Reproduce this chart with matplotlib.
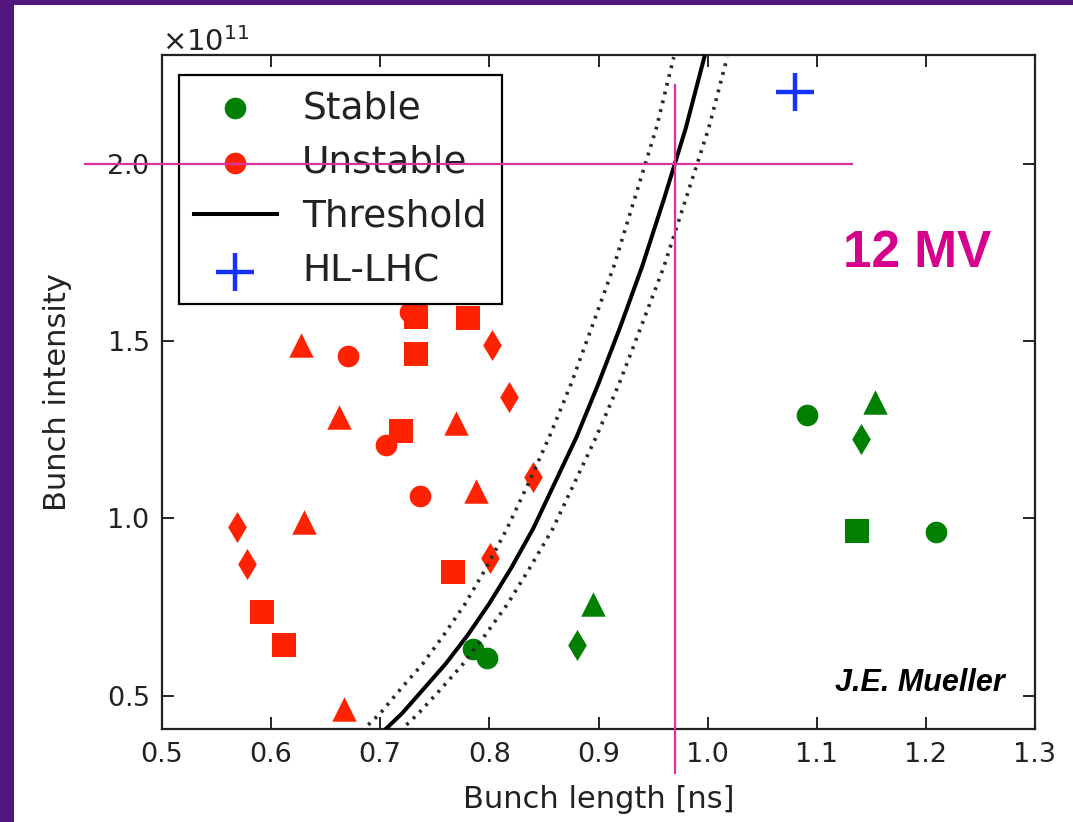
import matplotlib
matplotlib.use("Agg")
import matplotlib.pyplot as plt
from matplotlib.patches import Rectangle

# bunch length [ns] and bunch intensity [1e11 p]
# unstable bunches (red)
unstable_circle_x = [0.727, 0.670, 0.705, 0.736]
unstable_circle_y = [1.582, 1.458, 1.207, 1.063]
unstable_square_x = [0.733, 0.733, 0.719, 0.780, 0.767, 0.592, 0.612]
unstable_square_y = [1.568, 1.463, 1.246, 1.565, 0.849, 0.737, 0.644]
unstable_triangle_x = [0.627, 0.662, 0.630, 0.769, 0.788, 0.667]
unstable_triangle_y = [1.489, 1.286, 0.990, 1.269, 1.077, 0.461]
unstable_diamond_x = [0.802, 0.818, 0.840, 0.801, 0.569, 0.578]
unstable_diamond_y = [1.489, 1.342, 1.117, 0.889, 0.976, 0.872]

# stable bunches (green)
stable_circle_x = [0.785, 0.798, 1.091, 1.209]
stable_circle_y = [0.632, 0.607, 1.292, 0.962]
stable_square_x = [1.137]
stable_square_y = [0.965]
stable_triangle_x = [0.895, 1.153]
stable_triangle_y = [0.759, 1.328]
stable_diamond_x = [0.880, 1.141]
stable_diamond_y = [0.644, 1.224]

# HL-LHC target
hllhc_x = [1.080]
hllhc_y = [2.201]

# threshold curve and its uncertainty band
threshold_y = [0.40, 0.45, 0.52, 0.59, 0.67, 0.76, 0.86, 0.97, 1.10, 1.23,
               1.38, 1.54, 1.71, 1.90, 2.10, 2.30]
threshold_x = [0.703, 0.720, 0.740, 0.760, 0.780, 0.800, 0.820, 0.840, 0.860, 0.880,
               0.900, 0.920, 0.940, 0.960, 0.980, 0.997]
band_low_x = [0.683, 0.700, 0.719, 0.739, 0.758, 0.778, 0.797, 0.816, 0.836, 0.855,
              0.875, 0.894, 0.914, 0.933, 0.953, 0.969]
band_high_x = [0.718, 0.735, 0.756, 0.776, 0.796, 0.817, 0.837, 0.858, 0.878, 0.898,
               0.919, 0.939, 0.960, 0.980, 1.001, 1.018]

# guide lines drawn on the slide
target_length = 0.97
target_intensity = 2.0

x_ticks = [0.5, 0.6, 0.7, 0.8, 0.9, 1.0, 1.1, 1.2, 1.3]
y_ticks = [0.5, 1.0, 1.5, 2.0]

RED = "#ff2200"
GREEN = "#007f00"
BLUE = "#1433ff"
PINK = "#e0309f"
E11 = 1e11


def scale(values):
    return [v * E11 for v in values]


plt.rcParams["font.family"] = "DejaVu Sans"

fig = plt.figure(figsize=(10.73, 8.22), dpi=100)
fig.patch.set_facecolor("#52167f")
fig.add_artist(Rectangle((14 / 1073, 0), 1, 1 - 5 / 822, transform=fig.transFigure,
                         facecolor="white", edgecolor="none", zorder=-10))

ax = fig.add_axes([162 / 1073, 1 - 729 / 822, 873 / 1073, 674 / 822])

# measurements
ax.scatter(unstable_circle_x, scale(unstable_circle_y), s=243, marker="o",
           color=RED, linewidths=0, label="Unstable", zorder=3)
ax.scatter(unstable_square_x, scale(unstable_square_y), s=300, marker="s",
           color=RED, linewidths=0, zorder=3)
ax.scatter(unstable_triangle_x, scale(unstable_triangle_y), s=310, marker="^",
           color=RED, linewidths=0, zorder=3)
ax.scatter(unstable_diamond_x, scale(unstable_diamond_y), s=250, marker="d",
           color=RED, linewidths=0, zorder=3)

ax.scatter(stable_circle_x, scale(stable_circle_y), s=243, marker="o",
           color=GREEN, linewidths=0, label="Stable", zorder=3)
ax.scatter(stable_square_x, scale(stable_square_y), s=300, marker="s",
           color=GREEN, linewidths=0, zorder=3)
ax.scatter(stable_triangle_x, scale(stable_triangle_y), s=310, marker="^",
           color=GREEN, linewidths=0, zorder=3)
ax.scatter(stable_diamond_x, scale(stable_diamond_y), s=250, marker="d",
           color=GREEN, linewidths=0, zorder=3)

# threshold
ax.plot(threshold_x, scale(threshold_y), color="black", lw=2.9,
        label="Threshold", zorder=4)
ax.plot(band_low_x, scale(threshold_y), color="#2a2a2a", lw=2.6,
        linestyle=(0, (0.8, 1.7)), zorder=4)
ax.plot(band_high_x, scale(threshold_y), color="#2a2a2a", lw=2.6,
        linestyle=(0, (0.8, 1.7)), zorder=4)

ax.scatter(hllhc_x, scale(hllhc_y), s=740, marker="+", color=BLUE,
           linewidths=3.2, label="HL-LHC", zorder=5)

ax.set_xlim(0.5, 1.3)
ax.set_ylim(0.406 * E11, 2.306 * E11)
ax.set_xticks(x_ticks)
ax.set_yticks(scale(y_ticks))
ax.ticklabel_format(axis="y", style="sci", scilimits=(0, 0), useMathText=True)
ax.yaxis.get_offset_text().set_fontsize(21)
ax.yaxis.get_offset_text().set_color("#444444")

ax.tick_params(direction="in", length=8.5, width=1.2, top=True, right=True,
               labelsize=19.5, labelcolor="#222222", pad=9)
for spine in ax.spines.values():
    spine.set_linewidth(1.6)
    spine.set_color("#222222")

ax.set_xlabel("Bunch length [ns]", fontsize=22, color="#222222")
ax.set_ylabel("Bunch intensity", fontsize=22, color="#222222")
ax.xaxis.set_label_coords(0.5, -0.083)
ax.yaxis.set_label_coords(-0.103, 0.5)

handles, labels = ax.get_legend_handles_labels()
order = [labels.index(name) for name in ["Stable", "Unstable", "Threshold", "HL-LHC"]]
leg = ax.legend([handles[i] for i in order], [labels[i] for i in order],
                loc="upper left", bbox_to_anchor=(0.0195, 0.970), borderaxespad=0,
                fontsize=27, handlelength=2.2, handletextpad=0.68, borderpad=0.4,
                labelspacing=0.49, scatterpoints=1, fancybox=False,
                edgecolor="black", framealpha=1)
leg.get_frame().set_linewidth(1.6)
for text in leg.get_texts():
    text.set_color("#222222")

# slide annotations
ax.plot([0.4294, 1.1324], [target_intensity * E11] * 2, color=PINK, lw=1.6,
        clip_on=False, zorder=10)
ax.plot([target_length] * 2, [2.221 * E11, 0.283 * E11], color=PINK, lw=1.6,
        clip_on=False, zorder=10)
ax.text(0.865, 0.706, "12 MV", transform=ax.transAxes, fontsize=37,
        fontweight="bold", family="Liberation Sans", color="#d6008c",
        ha="center", va="center")
ax.text(0.868, 0.068, "J.E. Mueller", transform=ax.transAxes, fontsize=22,
        fontweight="bold", fontstyle="italic", family="Liberation Sans",
        color="black", ha="center", va="center")

fig.savefig("out.png", dpi=100)
